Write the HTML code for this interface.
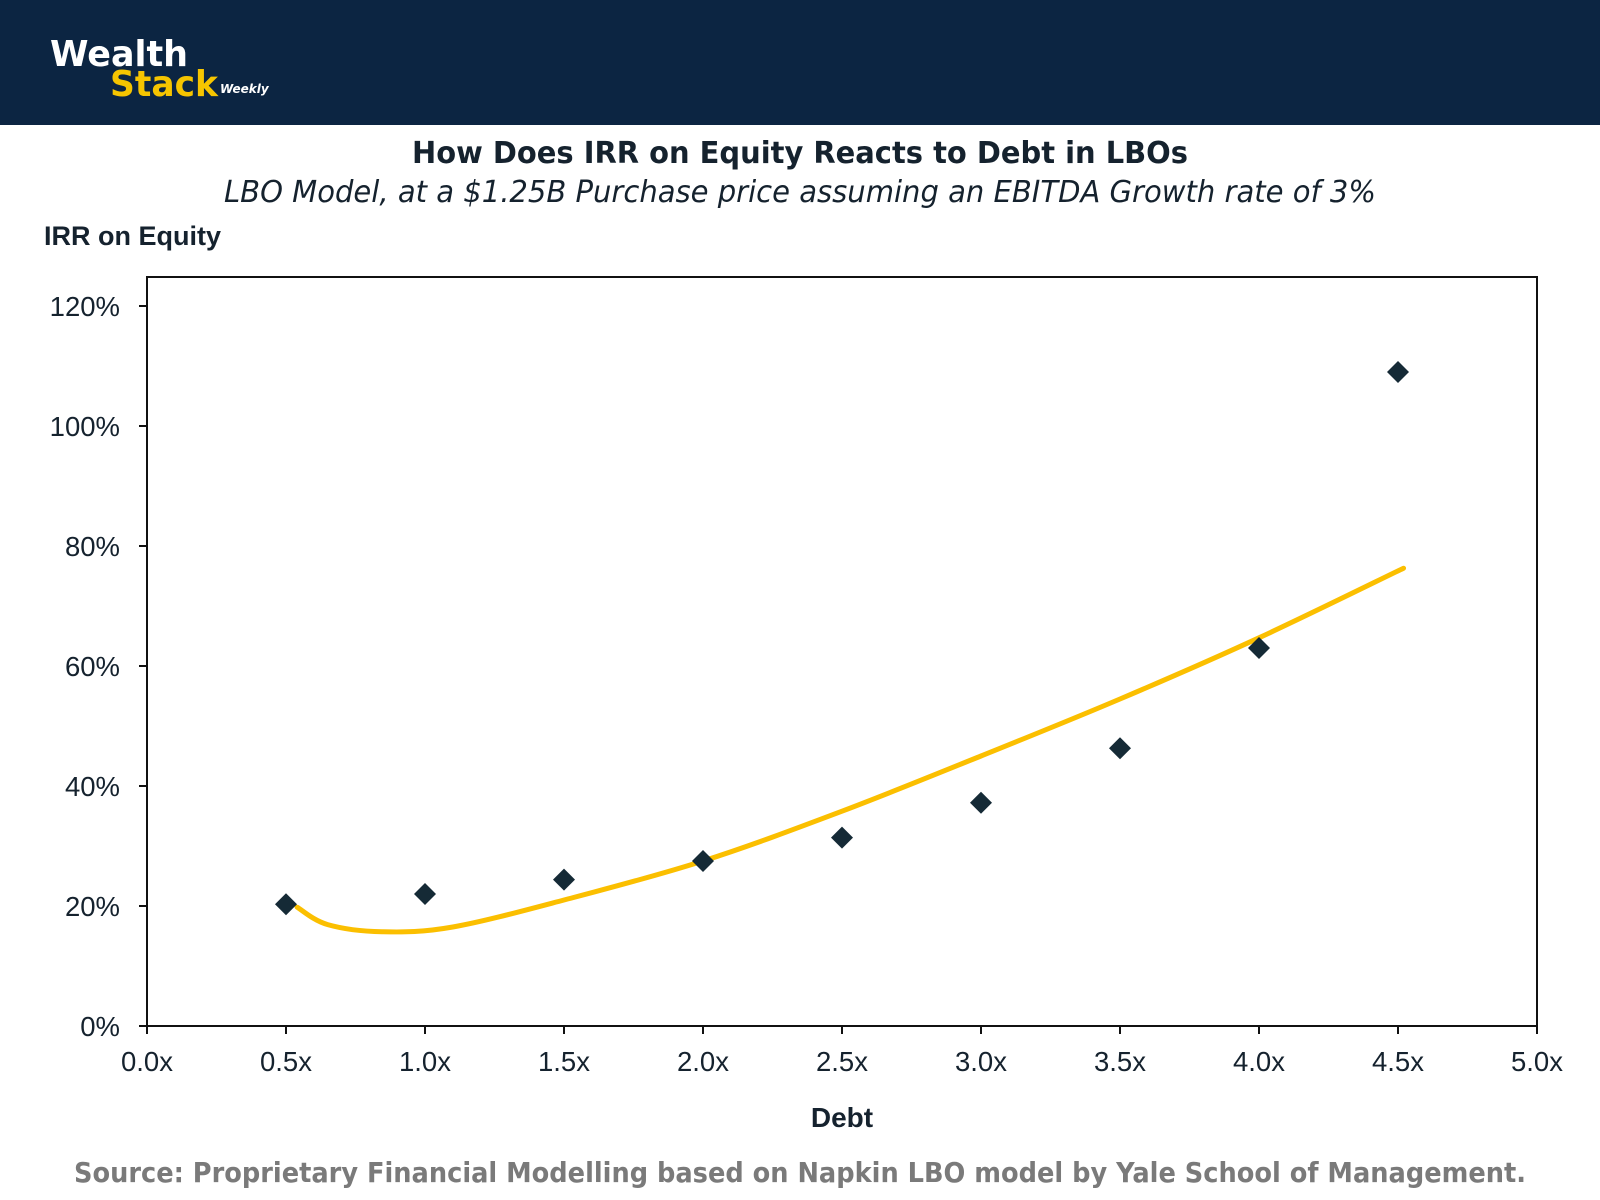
<!DOCTYPE html>
<html><head><meta charset="utf-8"><style>
body{margin:0;width:1600px;height:1200px;background:#fff;overflow:hidden;font-family:"Liberation Sans","DejaVu Sans",sans-serif;}
svg{display:block}
</style></head><body>
<svg width="1600" height="1200" viewBox="0 0 1600 1200">
<rect x="0" y="0" width="1600" height="125" fill="#0c2542"/>
<g>
<text x="50" y="66" font-size="36" font-weight="bold" fill="#fff" font-family="DejaVu Sans, sans-serif" textLength="138" lengthAdjust="spacingAndGlyphs">Wealth</text>
<text x="110" y="96" font-size="36" font-weight="bold" fill="#f6c500" font-family="DejaVu Sans, sans-serif" textLength="108" lengthAdjust="spacingAndGlyphs">Stack</text>
<text x="220" y="93" font-size="12" font-weight="bold" font-style="italic" fill="#fff" font-family="DejaVu Sans, sans-serif">Weekly</text>
</g>
<text x="800" y="163" text-anchor="middle" font-size="30" font-weight="bold" fill="#15222e" font-family="DejaVu Sans, sans-serif" textLength="776" lengthAdjust="spacingAndGlyphs">How Does IRR on Equity Reacts to Debt in LBOs</text>
<text x="800" y="202" text-anchor="middle" font-size="30" font-style="italic" fill="#15222e" font-family="DejaVu Sans, sans-serif" textLength="1152" lengthAdjust="spacingAndGlyphs">LBO Model, at a $1.25B Purchase price assuming an EBITDA Growth rate of 3%</text>
<text x="44" y="245" font-size="27" font-weight="bold" fill="#15222e">IRR on Equity</text>
<rect x="147" y="277" width="1390" height="749" fill="none" stroke="#111" stroke-width="2"/>
<g id="axes"></g>
<g id="marks"></g>
<text x="842" y="1127" text-anchor="middle" font-size="28" font-weight="bold" fill="#15222e">Debt</text>
<text x="800" y="1182" text-anchor="middle" font-size="28" font-weight="bold" fill="#7a7a7a" font-family="DejaVu Sans, sans-serif" textLength="1452" lengthAdjust="spacingAndGlyphs">Source: Proprietary Financial Modelling based on Napkin LBO model by Yale School of Management.</text>
</svg>
<script>
const debt = [0.5,1.0,1.5,2.0,2.5,3.0,3.5,4.0,4.5];
const irr = [20.3,22.0,24.4,27.5,31.4,37.2,46.3,63.0,109.0];
const trendX = [0.54,0.65,0.85,1.1,1.5,2.0,2.5,3.0,3.5,4.0,4.52];
const trendY = [19.8,16.9,15.7,16.5,21.0,27.5,35.8,45.0,54.5,64.7,76.3];
const xTicks = [0,0.5,1,1.5,2,2.5,3,3.5,4,4.5,5];
const xTickLabels = ["0.0x","0.5x","1.0x","1.5x","2.0x","2.5x","3.0x","3.5x","4.0x","4.5x","5.0x"];
const yTicks = [0,20,40,60,80,100,120];
const yTickLabels = ["0%","20%","40%","60%","80%","100%","120%"];
const NS="http://www.w3.org/2000/svg";
const X=v=>147+v*278, Y=v=>1026-v*6;
const axes=document.getElementById('axes'), marks=document.getElementById('marks');
function mk(t,a,p){const e=document.createElementNS(NS,t);for(const k in a)e.setAttribute(k,a[k]);p.appendChild(e);return e;}
xTicks.forEach((v,i)=>{
 const l=mk('line',{x1:X(v),x2:X(v),y1:1026,y2:1034,stroke:'#111','stroke-width':2},axes);
 
 
 const t=mk('text',{x:X(v),y:1071,'text-anchor':'middle','font-size':27.5,fill:'#15222e'},axes);
 t.textContent=xTickLabels[i];
 
 
});
yTicks.forEach((v,i)=>{
 const l=mk('line',{x1:139,x2:147,y1:Y(v),y2:Y(v),stroke:'#111','stroke-width':2},axes);
 
 
 const t=mk('text',{x:120,y:Y(v)+10,'text-anchor':'end','font-size':27.5,fill:'#15222e'},axes);
 t.textContent=yTickLabels[i];
 
 
});
const pts=trendX.map((x,i)=>[X(x),Y(trendY[i])]);
let d='M'+pts[0][0]+','+pts[0][1];
for(let i=0;i<pts.length-1;i++){
 const p0=pts[Math.max(0,i-1)],p1=pts[i],p2=pts[i+1],p3=pts[Math.min(pts.length-1,i+2)];
 d+=` C${p1[0]+(p2[0]-p0[0])/6},${p1[1]+(p2[1]-p0[1])/6} ${p2[0]-(p3[0]-p1[0])/6},${p2[1]-(p3[1]-p1[1])/6} ${p2[0]},${p2[1]}`;
}
const tr=mk('path',{d:d,fill:'none',stroke:'#fbbf00','stroke-width':5,'stroke-linecap':'round'},marks);


debt.forEach((v,i)=>{
 const cx=X(v),cy=Y(irr[i]),s=11;
 const p=mk('polygon',{points:`${cx},${cy-s} ${cx+s},${cy} ${cx},${cy+s} ${cx-s},${cy}`,fill:'#152a36'},marks);
 
 
});
</script>
</body></html>
